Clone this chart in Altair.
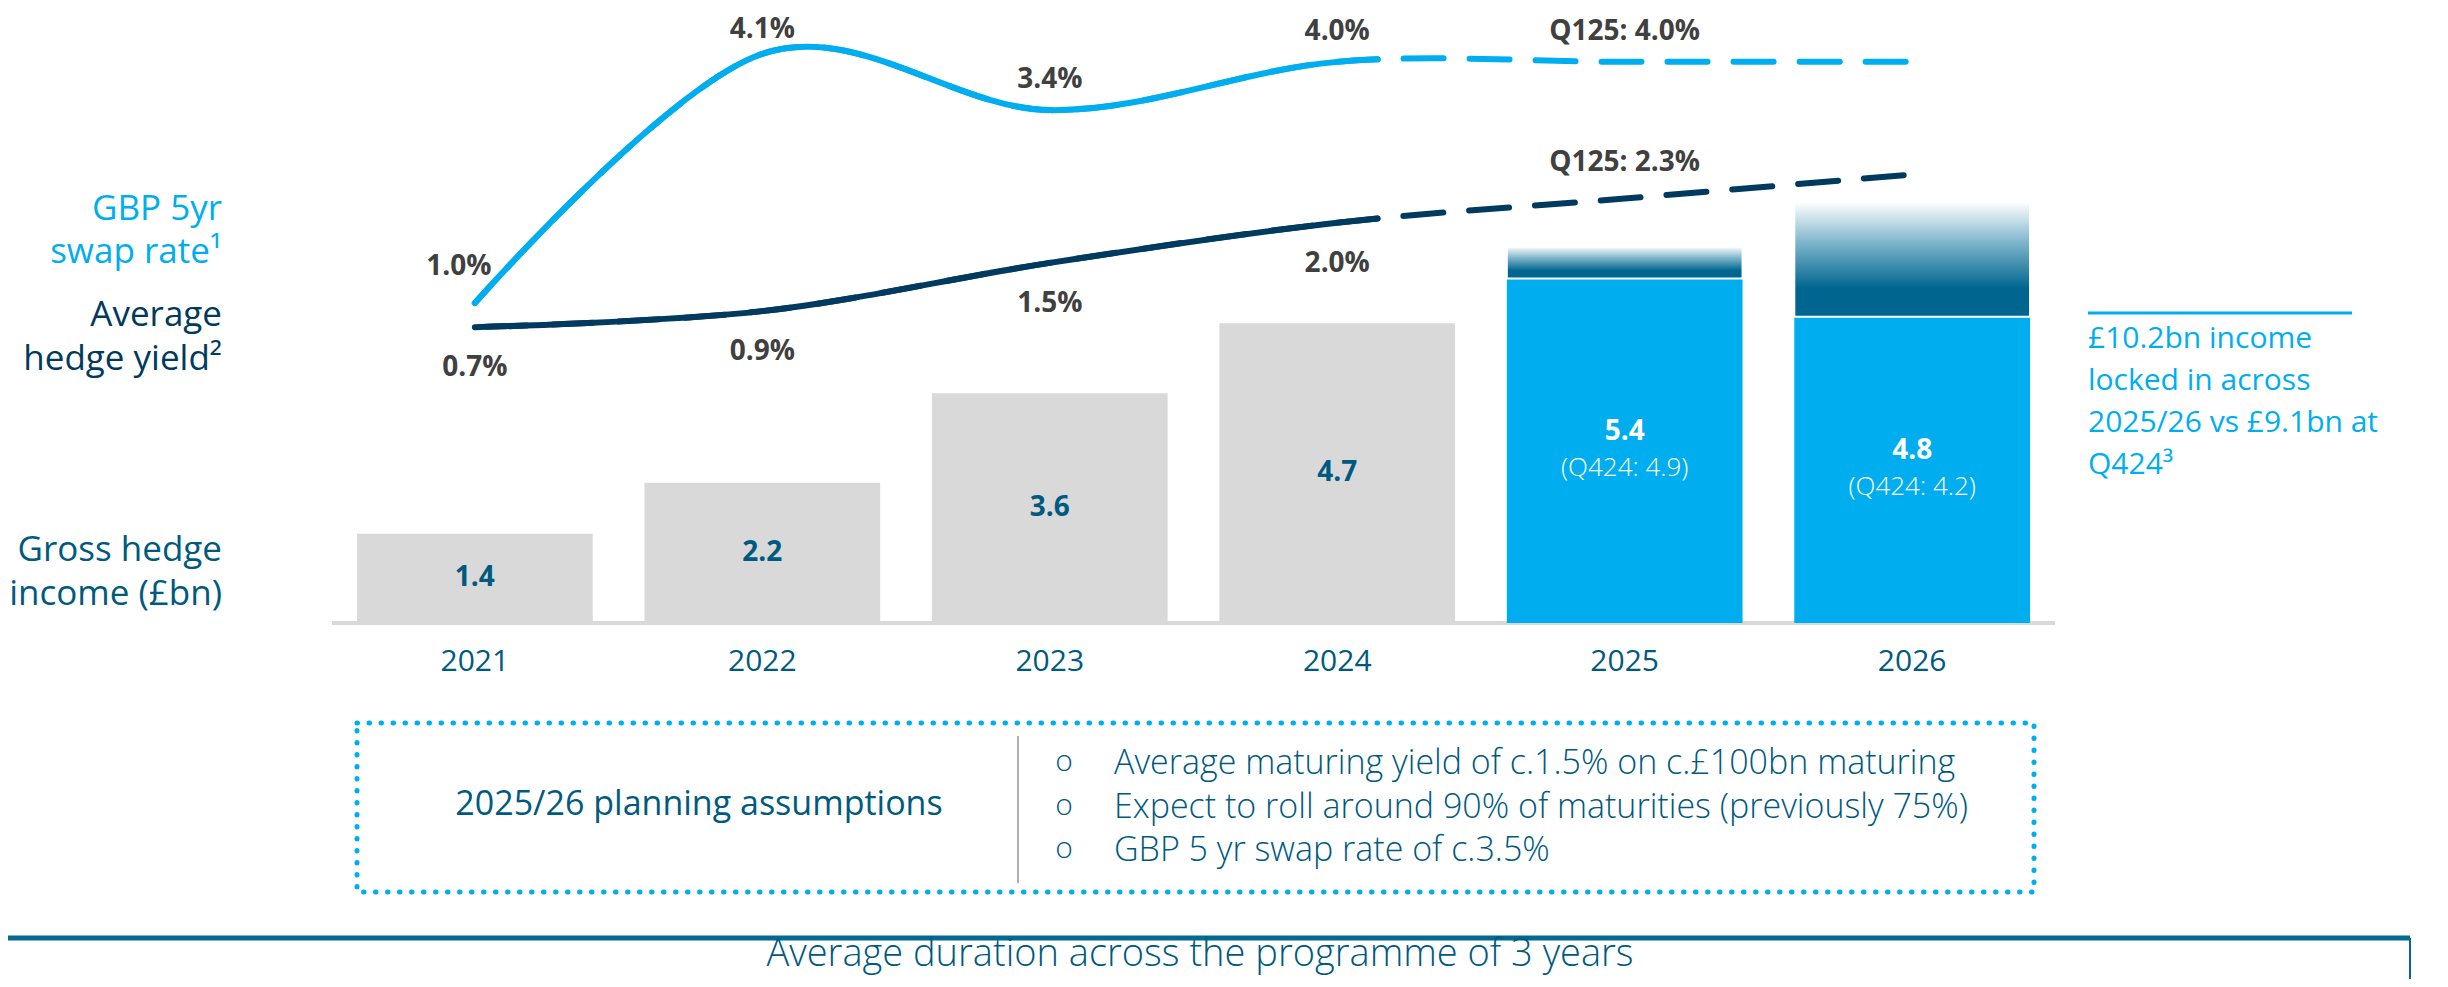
import altair as alt
import pandas as pd

# ---------------- data ----------------
years = ["2021", "2022", "2023", "2024", "2025", "2026"]
gross_income = [1.4, 2.2, 3.6, 4.7, 5.4, 4.8]          # £bn
forecast_flag = [False, False, False, False, True, True]
q424_income = [None, None, None, None, 4.9, 4.2]       # £bn, prior guidance
upside_top = [None, None, None, None, 5.9, 6.6]        # indicative top of shaded upside
swap_rate = [1.0, 4.1, 3.4, 4.0, 4.0, 4.0]             # GBP 5yr swap rate %
hedge_yield = [0.7, 0.9, 1.5, 2.0, 2.3, 2.6]           # average hedge yield %
n_actual_line = 4                                      # solid part: 2021-2024
bullets = [
    "Average maturing yield of c.1.5% on c.£100bn maturing",
    "Expect to roll around 90% of maturities (previously 75%)",
    "GBP 5 yr swap rate of c.3.5%",
]

# ---------------- styling ----------------
FONT = "Open Sans"
CYAN = "#00AEEF"
NAVY = "#003A5E"
TEAL = "#005A80"
GREY_TXT = "#404040"
BAR_GREY = "#D9D9D9"

X_RANGE = [349, 2022]
PAD_INNER = 0.18
Y_LINE_DOMAIN, Y_LINE_RANGE = [0, 4.67], [375.5, 0]

x_scale = alt.Scale(domain=years, range=X_RANGE, paddingInner=PAD_INNER, paddingOuter=0)
y_bar = alt.Scale(domain=[0, 9.64], range=[615, 0])
y_line = alt.Scale(domain=Y_LINE_DOMAIN, range=Y_LINE_RANGE)

X = alt.X("year:N", scale=x_scale, axis=None)

# ---- helper: path length of the solid (actual) part of a cardinal curve, so the
# solid stroke can stop where the forecast dashes begin on one smooth curve ----
_step = (X_RANGE[1] - X_RANGE[0]) / (len(years) - PAD_INNER)
_centers = [X_RANGE[0] + i * _step + _step * (1 - PAD_INNER) / 2 for i in range(len(years))]


def _ypix(v):
    d0, d1 = Y_LINE_DOMAIN
    r0, r1 = Y_LINE_RANGE
    return r0 + (v - d0) / (d1 - d0) * (r1 - r0)


def solid_length(vals, x_stop):
    pts = [(_centers[i], _ypix(v)) for i, v in enumerate(vals)]
    n, k = len(pts), 1.0 / 6.0
    total = 0.0
    for i in range(n - 1):
        p1, p2 = pts[i], pts[i + 1]
        p0 = pts[i - 1] if i > 0 else pts[i + 1]
        p3 = pts[i + 2] if i + 2 < n else pts[i]
        c1 = (p1[0] + k * (p2[0] - p0[0]), p1[1] + k * (p2[1] - p0[1]))
        c2 = (p2[0] - k * (p3[0] - p1[0]), p2[1] - k * (p3[1] - p1[1]))
        prev = p1
        for s in range(1, 401):
            t = s / 400
            mt = 1 - t
            x = mt**3 * p1[0] + 3 * mt**2 * t * c1[0] + 3 * mt * t**2 * c2[0] + t**3 * p2[0]
            y = mt**3 * p1[1] + 3 * mt**2 * t * c1[1] + 3 * mt * t**2 * c2[1] + t**3 * p2[1]
            total += ((x - prev[0]) ** 2 + (y - prev[1]) ** 2) ** 0.5
            prev = (x, y)
            if x >= x_stop:
                return total
    return total


SOLID_STOP = _centers[n_actual_line - 1] + 40
DASH, GAP = 40, 26

bars_df = pd.DataFrame({
    "year": years,
    "value": gross_income,
    "kind": ["forecast" if f else "actual" for f in forecast_flag],
})
bars_df["label"] = [f"{v:.1f}" for v in gross_income]
fc_df = pd.DataFrame({
    "year": [y for y, f in zip(years, forecast_flag) if f],
    "value": [v for v, f in zip(gross_income, forecast_flag) if f],
    "top": [t for t, f in zip(upside_top, forecast_flag) if f],
    "q424": [f"(Q424: {q:.1f})" for q, f in zip(q424_income, forecast_flag) if f],
})
fc_df["label"] = [f"{v:.1f}" for v in fc_df["value"]]
act_df = bars_df[[not f for f in forecast_flag]]

lines_df = pd.DataFrame({"year": years, "swap": swap_rate, "hedge": hedge_yield})

swap_lbl_first = pd.DataFrame({
    "year": years[:1], "val": swap_rate[:1], "text": [f"{swap_rate[0]:.1f}%"],
})
swap_lbl_peak = pd.DataFrame({
    "year": years[1:2], "val": swap_rate[1:2], "text": [f"{swap_rate[1]:.1f}%"],
})
swap_lbl = pd.DataFrame({
    "year": years[2:5],
    "val": swap_rate[2:5],
    "text": [f"{v:.1f}%" for v in swap_rate[2:4]] + [f"Q125: {swap_rate[4]:.1f}%"],
})
hedge_lbl_below = pd.DataFrame({
    "year": years[:4],
    "val": hedge_yield[:4],
    "text": [f"{v:.1f}%" for v in hedge_yield[:4]],
})
hedge_lbl_q125 = pd.DataFrame({
    "year": [years[4]],
    "val": [hedge_yield[4]],
    "text": [f"Q125: {hedge_yield[4]:.1f}%"],
})
year_df = pd.DataFrame({"year": years, "zero": [0] * len(years)})


def ann(text, x, y, size, color, align="center", weight="normal", baseline="middle"):
    return alt.Chart(pd.DataFrame({"t": [text]})).mark_text(
        align=align, baseline=baseline, fontSize=size, color=color,
        font=FONT, fontWeight=weight,
    ).encode(x=alt.value(x), y=alt.value(y), text="t:N")


layers = []

# baseline
layers.append(
    alt.Chart(pd.DataFrame({"v": [0]})).mark_rule(color=BAR_GREY, strokeWidth=4).encode(
        y=alt.Y("v:Q", scale=y_bar, axis=None), x=alt.value(324), x2=alt.value(2047)
    )
)

# bars
layers.append(
    alt.Chart(bars_df).mark_bar().encode(
        x=X,
        y=alt.Y("value:Q", scale=y_bar, axis=None),
        color=alt.Color("kind:N", scale=alt.Scale(domain=["actual", "forecast"],
                                                  range=[BAR_GREY, CYAN]), legend=None),
    )
)

gradient = alt.LinearGradient(
    gradient="linear",
    stops=[
        alt.GradientStop(color="#00668F", offset=0),
        alt.GradientStop(color="#00668F", offset=0.25),
        alt.GradientStop(color="#7FB6CC", offset=0.65),
        alt.GradientStop(color="#FFFFFF", offset=1),
    ],
    x1=0, x2=0, y1=1, y2=0,
)
layers.append(
    alt.Chart(fc_df).mark_bar(color=gradient, stroke="white", strokeWidth=2).encode(
        x=X,
        y=alt.Y("top:Q", scale=y_bar, axis=None),
        y2="value:Q",
    )
)

# bar labels
layers.append(
    alt.Chart(act_df).transform_calculate(mid="datum.value / 2").mark_text(
        font=FONT, fontSize=28, fontWeight="bold", color=TEAL, baseline="middle"
    ).encode(x=X, y=alt.Y("mid:Q", scale=y_bar, axis=None), text="label:N")
)
layers.append(
    alt.Chart(fc_df).transform_calculate(mid="datum.value / 2").mark_text(
        font=FONT, fontSize=28, fontWeight="bold", color="white", baseline="middle", dy=-19
    ).encode(x=X, y=alt.Y("mid:Q", scale=y_bar, axis=None), text="label:N")
)
layers.append(
    alt.Chart(fc_df).transform_calculate(mid="datum.value / 2").mark_text(
        font=FONT, fontSize=26, fontWeight=300, color="white", baseline="middle", dy=17
    ).encode(x=X, y=alt.Y("mid:Q", scale=y_bar, axis=None), text="q424:N")
)

# year labels
layers.append(
    alt.Chart(year_df).mark_text(
        font=FONT, fontSize=30, color=TEAL, baseline="middle", dy=39
    ).encode(x=X, y=alt.Y("zero:Q", scale=y_bar, axis=None), text="year:N")
)

# lines: one smooth curve per series; dashed everywhere underneath, solid on top
# for the actual years only
for col, colr, vals in [("swap", CYAN, swap_rate), ("hedge", NAVY, hedge_yield)]:
    L = solid_length(vals, SOLID_STOP)
    offset = (DASH - L) % (DASH + GAP)
    layers.append(
        alt.Chart(lines_df).mark_line(color=colr, strokeWidth=6, interpolate="cardinal",
                                      strokeCap="round", strokeDash=[DASH, GAP],
                                      strokeDashOffset=offset).encode(
            x=X, y=alt.Y(f"{col}:Q", scale=y_line, axis=None))
    )
    layers.append(
        alt.Chart(lines_df).mark_line(color=colr, strokeWidth=6, interpolate="cardinal",
                                      strokeCap="round", strokeDash=[L, 100000]).encode(
            x=X, y=alt.Y(f"{col}:Q", scale=y_line, axis=None))
    )

# percentage labels
pct_style = dict(font=FONT, fontSize=28, fontWeight="bold", color=GREY_TXT, baseline="middle")
layers.append(
    alt.Chart(swap_lbl_first).mark_text(dy=-36, dx=-16, **pct_style).encode(
        x=X, y=alt.Y("val:Q", scale=y_line, axis=None), text="text:N")
)
layers.append(
    alt.Chart(swap_lbl_peak).mark_text(dy=-24, **pct_style).encode(
        x=X, y=alt.Y("val:Q", scale=y_line, axis=None), text="text:N")
)
layers.append(
    alt.Chart(swap_lbl).mark_text(dy=-30, **pct_style).encode(
        x=X, y=alt.Y("val:Q", scale=y_line, axis=None), text="text:N")
)
layers.append(
    alt.Chart(hedge_lbl_below).mark_text(dy=41, **pct_style).encode(
        x=X, y=alt.Y("val:Q", scale=y_line, axis=None), text="text:N")
)
layers.append(
    alt.Chart(hedge_lbl_q125).mark_text(dy=-36, **pct_style).encode(
        x=X, y=alt.Y("val:Q", scale=y_line, axis=None), text="text:N")
)

# left-hand series labels
layers += [
    ann("GBP 5yr", 214, 201, 35, CYAN, align="right"),
    ann("swap rate¹", 214, 244, 35, CYAN, align="right"),
    ann("Average", 214, 307, 35, NAVY, align="right"),
    ann("hedge yield²", 214, 351, 35, NAVY, align="right"),
    ann("Gross hedge", 214, 542, 35, TEAL, align="right"),
    ann("income (£bn)", 214, 586, 35, TEAL, align="right"),
]

# right-hand annotation
layers.append(
    alt.Chart(pd.DataFrame({"a": [0]})).mark_rule(color=CYAN, strokeWidth=3).encode(
        x=alt.value(2080), x2=alt.value(2344), y=alt.value(305))
)
for i, line in enumerate(["£10.2bn income", "locked in across", "2025/26 vs £9.1bn at", "Q424³"]):
    layers.append(ann(line, 2080, 331 + 42 * i, 30, CYAN, align="left"))

# planning assumptions box
layers.append(
    alt.Chart(pd.DataFrame({"a": [0]})).mark_rect(
        filled=False, color=CYAN, strokeWidth=5, strokeDash=[0.5, 11.5], strokeCap="round"
    ).encode(x=alt.value(349), x2=alt.value(2026), y=alt.value(715), y2=alt.value(884))
)
layers.append(
    alt.Chart(pd.DataFrame({"a": [0]})).mark_rule(color="#AFAFAF", strokeWidth=2).encode(
        x=alt.value(1010), y=alt.value(728), y2=alt.value(875))
)
layers.append(ann("2025/26 planning assumptions", 691, 797, 34, TEAL))
for i, b in enumerate(bullets):
    yy = 756 + 43.5 * i
    layers.append(ann("o", 1056, yy - 2, 30, TEAL, weight=300))
    layers.append(ann(b, 1106, yy, 34, TEAL, align="left", weight=300))

# bottom bar
layers.append(
    alt.Chart(pd.DataFrame({"a": [0]})).mark_rule(color="#006A91", strokeWidth=5).encode(
        x=alt.value(0), x2=alt.value(2402), y=alt.value(930))
)
layers.append(
    alt.Chart(pd.DataFrame({"a": [0]})).mark_rule(color="#006A91", strokeWidth=2).encode(
        x=alt.value(2402), y=alt.value(930), y2=alt.value(971))
)
layers.append(ann("Average duration across the programme of 3 years", 1192, 958, 38, TEAL,
                  weight=300, baseline="alphabetic"))

chart = alt.layer(*layers).resolve_scale(y="independent").properties(
    width=2432, height=971, padding=0,
    autosize=alt.AutoSizeParams(type="none"),
).configure_view(strokeWidth=0)

chart.save("out.html", embed_options={"renderer": "svg", "actions": False})
